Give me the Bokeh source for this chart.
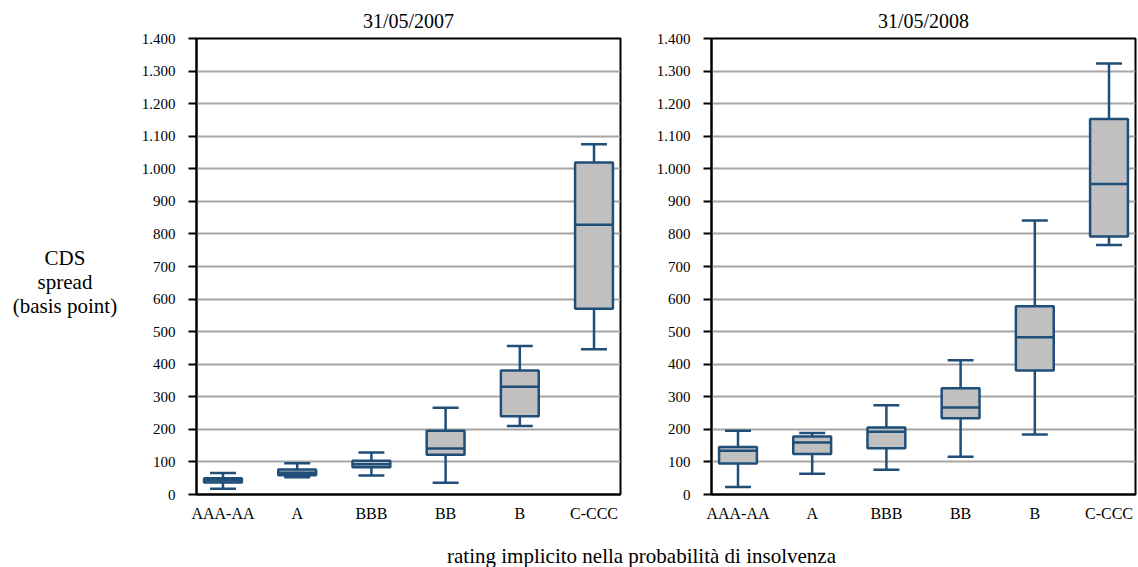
from bokeh.plotting import figure
from bokeh.models import Range1d, FixedTicker, Div
from bokeh.layouts import row, column
from bokeh.embed import file_html
from bokeh.resources import INLINE

# Rating classes
categories = ["AAA-AA", "A", "BBB", "BB", "B", "C-CCC"]

# CDS spread distribution, 31/05/2007 (basis points)
low_2007 = [18, 53, 58, 36, 210, 446]
q1_2007 = [37, 59, 84, 122, 240, 570]
med_2007 = [44, 67, 93, 141, 331, 828]
q3_2007 = [50, 77, 104, 196, 381, 1019]
high_2007 = [66, 96, 129, 266, 456, 1075]

# CDS spread distribution, 31/05/2008 (basis points)
low_2008 = [23, 64, 76, 116, 184, 766]
q1_2008 = [95, 124, 142, 234, 381, 792]
med_2008 = [134, 160, 193, 267, 483, 953]
q3_2008 = [146, 178, 206, 326, 578, 1153]
high_2008 = [196, 189, 274, 412, 841, 1323]

y_ticks = [0, 100, 200, 300, 400, 500, 600, 700, 800, 900, 1000, 1100, 1200, 1300, 1400]
y_tick_labels = ["0", "100", "200", "300", "400", "500", "600", "700", "800",
                 "900", "1.000", "1.100", "1.200", "1.300", "1.400"]

FONT = "Times"
BOX_LINE = "#1F4E79"
BOX_FILL = "#C0C0C0"
GRID = "#A6A6A6"

BOX_W = 0.51
CAP_W = 0.35


def box_panel(title, low, q1, med, q3, high, border_left, border_right):
    p = figure(
        title=title,
        output_backend="svg",
        toolbar_location=None,
        frame_width=424,
        frame_height=456,
        min_border_left=border_left,
        min_border_right=border_right,
        min_border_top=38,
        min_border_bottom=40,
        x_range=Range1d(-0.357, 5.357),
        y_range=Range1d(0, 1400),
    )
    p.title.text_font = FONT
    p.title.text_font_size = "20px"
    p.title.text_font_style = "normal"
    p.title.align = "center"
    p.title.text_color = "black"
    p.title.standoff = 14

    xs = list(range(len(categories)))

    # whiskers
    p.segment(x0=xs, y0=q3, x1=xs, y1=high, line_color=BOX_LINE, line_width=2.5)
    p.segment(x0=xs, y0=low, x1=xs, y1=q1, line_color=BOX_LINE, line_width=2.5)
    # caps
    p.segment(x0=[x - CAP_W / 2 for x in xs], y0=high, x1=[x + CAP_W / 2 for x in xs], y1=high,
              line_color=BOX_LINE, line_width=2.5)
    p.segment(x0=[x - CAP_W / 2 for x in xs], y0=low, x1=[x + CAP_W / 2 for x in xs], y1=low,
              line_color=BOX_LINE, line_width=2.5)
    # boxes
    p.vbar(x=xs, bottom=q1, top=q3, width=BOX_W, fill_color=BOX_FILL,
           line_color=BOX_LINE, line_width=2.5)
    # medians
    p.segment(x0=[x - BOX_W / 2 for x in xs], y0=med, x1=[x + BOX_W / 2 for x in xs], y1=med,
              line_color=BOX_LINE, line_width=2.5)

    p.xgrid.visible = False
    p.ygrid.grid_line_color = GRID
    p.ygrid.grid_line_width = 2
    p.ygrid.ticker = FixedTicker(ticks=y_ticks)

    p.outline_line_color = "black"
    p.outline_line_width = 2
    p.outline_line_alpha = 1

    p.yaxis.ticker = FixedTicker(ticks=y_ticks)
    p.yaxis.major_label_overrides = dict(zip(y_ticks, y_tick_labels))
    p.yaxis.major_tick_out = 8
    p.yaxis.major_tick_in = 0
    p.yaxis.minor_tick_out = 0
    p.yaxis.minor_tick_in = 0
    p.yaxis.major_tick_line_width = 2
    p.yaxis.axis_line_width = 2
    p.yaxis.major_label_standoff = 13
    p.yaxis.major_label_text_font_size = "15px"

    p.xaxis.ticker = FixedTicker(ticks=list(range(len(categories))))
    p.xaxis.major_label_overrides = {i: c for i, c in enumerate(categories)}
    p.xaxis.major_tick_out = 0
    p.xaxis.major_tick_in = 0
    p.xaxis.minor_tick_out = 0
    p.xaxis.minor_tick_in = 0
    p.xaxis.axis_line_width = 2
    p.xaxis.major_label_standoff = 10
    p.xaxis.major_label_text_font_size = "16px"

    for ax in (p.xaxis, p.yaxis):
        ax.major_label_text_font = FONT
        ax.major_label_text_color = "black"
        ax.axis_line_color = "black"
        ax.major_tick_line_color = "black"
    return p


p1 = box_panel("31/05/2007", low_2007, q1_2007, med_2007, q3_2007, high_2007, 66, 15)
p2 = box_panel("31/05/2008", low_2008, q1_2008, med_2008, q3_2008, high_2008, 76, 6)

ylab = Div(
    text="CDS<br>spread<br>(basis point)",
    width=120,
    height=90,
    styles={
        "font-family": FONT,
        "font-size": "21px",
        "text-align": "center",
        "line-height": "24px",
        "margin-top": "246px",
        "color": "black",
    },
)

xlab = Div(
    text="rating implicito nella probabilità di insolvenza",
    width=1100,
    height=24,
    styles={
        "font-family": FONT,
        "font-size": "21px",
        "line-height": "24px",
        "color": "black",
        "padding-left": "442px",
        "margin-top": "10px",
    },
)

layout = column(row(ylab, p1, p2), xlab)

open("out.html", "w").write(file_html(layout, INLINE))
